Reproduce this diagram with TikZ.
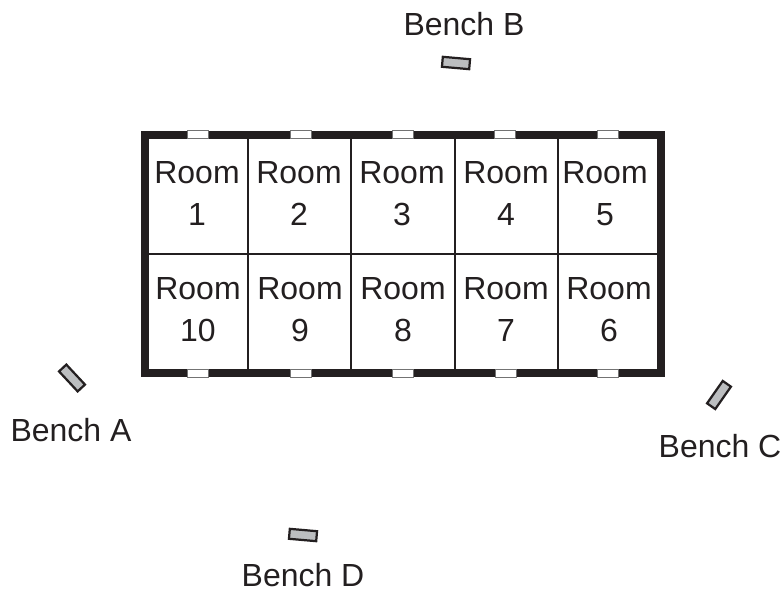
\documentclass[tikz,border=0pt]{standalone}
\usepackage{fontspec}
\setmainfont{Liberation Sans}
\definecolor{inkblack}{HTML}{231F20}
\definecolor{benchgray}{HTML}{BCBEC0}
\tikzset{
	roomlabel/.style={text=inkblack,align=center,font=\fontsize{27.3}{35.7}\selectfont,inner sep=0pt,anchor=base},
	benchlabel/.style={text=inkblack,font=\fontsize{27.3}{33}\selectfont,inner sep=0pt,anchor=base},
	bench/.style={draw=inkblack,fill=benchgray,line width=1.9pt,minimum width=0.82cm,minimum height=0.3cm,inner sep=0pt},
	window/.style={draw=black!55,fill=white,line width=0.8pt,minimum width=0.63cm,minimum height=0.26cm,inner sep=0pt}
}
\begin{document}
\begin{tikzpicture}[x=0.03cm,y=-0.03cm]
	\useasboundingbox (0,0) rectangle (783,594);

	% inner walls
	\draw[inkblack,line width=1.5pt] (145,254) -- (661,254);
	\draw[inkblack,line width=1.5pt] (248,135) -- (248,373);
	\draw[inkblack,line width=1.5pt] (351,135) -- (351,373);
	\draw[inkblack,line width=1.5pt] (455,135) -- (455,373);
	\draw[inkblack,line width=1.5pt] (558,135) -- (558,373);

	% outer wall
	\draw[inkblack,line width=6.9pt] (145,135) rectangle (661,373);

	% windows
	\node[window] (win1) at (198,134.5) {};
	\node[window] (win2) at (300.5,134.5) {};
	\node[window] (win3) at (403,134.5) {};
	\node[window] (win4) at (505,134.5) {};
	\node[window] (win5) at (607.5,134.5) {};
	\node[window] (win10) at (198,373.5) {};
	\node[window] (win9) at (300.5,373.5) {};
	\node[window] (win8) at (402.5,373.5) {};
	\node[window] (win7) at (505.5,373.5) {};
	\node[window] (win6) at (607.5,373.5) {};

	% rooms
	\node[roomlabel] (room1) at (197,225) {Room\\1};
	\node[roomlabel] (room2) at (299,225) {Room\\2};
	\node[roomlabel] (room3) at (402,225) {Room\\3};
	\node[roomlabel] (room4) at (506,225) {Room\\4};
	\node[roomlabel] (room5) at (605,225) {Room\\5};
	\node[roomlabel] (room10) at (198,341) {Room\\10};
	\node[roomlabel] (room9) at (300,341) {Room\\9};
	\node[roomlabel] (room8) at (403,341) {Room\\8};
	\node[roomlabel] (room7) at (506,341) {Room\\7};
	\node[roomlabel] (room6) at (609,341) {Room\\6};

	% benches
	\node[bench,rotate=-47] (benchA) at (72,378) {};
	\node[bench,rotate=-5] (benchB) at (456,63) {};
	\node[bench,rotate=55] (benchC) at (719,395) {};
	\node[bench,rotate=-5] (benchD) at (303,535) {};

	\node[benchlabel] (labelA) at (71,441) {Bench A};
	\node[benchlabel] (labelB) at (464,36) {Bench B};
	\node[benchlabel] (labelC) at (720,457) {Bench C};
	\node[benchlabel] (labelD) at (303,586) {Bench D};
\end{tikzpicture}
\end{document}
